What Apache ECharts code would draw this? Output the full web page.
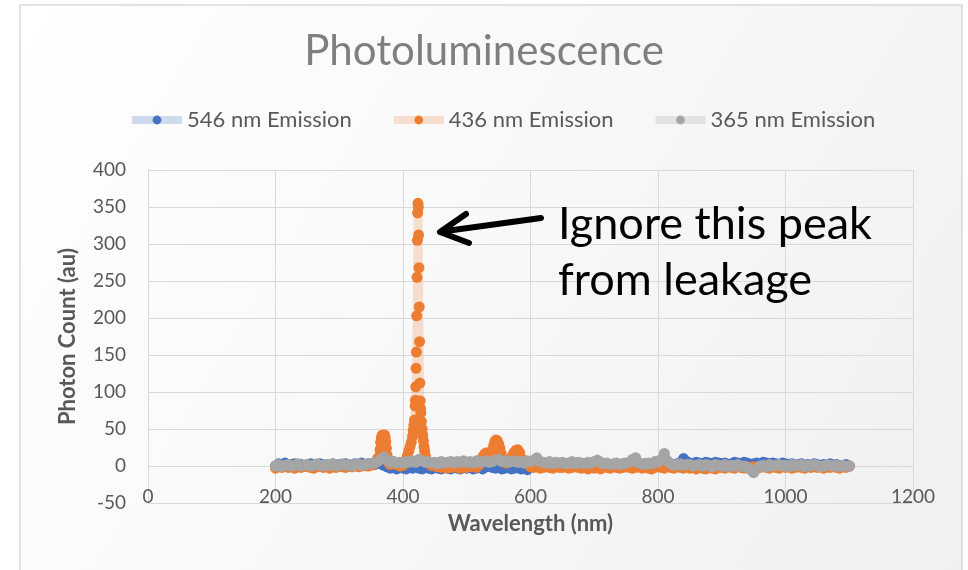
<!DOCTYPE html>
<html>
<head>
<meta charset="utf-8">
<title>Photoluminescence</title>
<script src="https://cdn.jsdelivr.net/npm/echarts@6/dist/echarts.min.js"></script>
<style>
  html, body { margin: 0; padding: 0; background: #fff; }
  #chart { width: 968px; height: 570px; }
</style>
</head>
<body>
<div id="chart"></div>
<script>
// wavelengths (nm) of the sampled points, one row per 50 nm
var wl = [
  200, 205, 210, 215, 220, 225, 230, 235, 240, 245,
  250, 255, 260, 265, 270, 275, 280, 285, 290, 295,
  300, 305, 310, 315, 320, 325, 330, 335, 340, 345,
  350, 355, 360, 365, 370, 375, 380, 385, 390, 395,
  400, 405, 410, 415, 420, 425, 430, 435, 440, 445,
  450, 455, 460, 465, 470, 475, 480, 485, 490, 495,
  500, 505, 510, 515, 520, 525, 530, 535, 540, 545,
  550, 555, 560, 565, 570, 575, 580, 585, 590, 595,
  600, 605, 610, 615, 620, 625, 630, 635, 640, 645,
  650, 655, 660, 665, 670, 675, 680, 685, 690, 695,
  700, 705, 710, 715, 720, 725, 730, 735, 740, 745,
  750, 755, 760, 765, 770, 775, 780, 785, 790, 795,
  800, 805, 810, 815, 820, 825, 830, 835, 840, 845,
  850, 855, 860, 865, 870, 875, 880, 885, 890, 895,
  900, 905, 910, 915, 920, 925, 930, 935, 940, 945,
  950, 955, 960, 965, 970, 975, 980, 985, 990, 995,
  1000, 1005, 1010, 1015, 1020, 1025, 1030, 1035, 1040, 1045,
  1050, 1055, 1060, 1065, 1070, 1075, 1080, 1085, 1090, 1095,
  1100
];
// 546 nm emission
var em546 = [
  0, 3, 1, 4, 1, 2, 3, 1, 2, 0,
  2, 3, 1, 2, 3, 1, 2, 0, 3, 1,
  2, 1, 3, 2, 1, 3, 2, 4, 2, 3,
  3, 2, 4, 3, 1, -1, -3, -2, -4, -2,
  -3, -4, -2, -3, -1, -3, -4, -2, -3, -4,
  -2, -3, -4, -2, -3, -4, -2, -3, -4, -2,
  -3, -2, -4, -3, -2, -4, -1, 0, -2, -3,
  -2, -4, -3, -2, -4, -3, -2, -4, -3, -5,
  0, 2, 1, 3, 2, 1, 3, 2, 3, 1,
  2, 3, 1, 2, 3, 1, 2, 0, 2, 1,
  2, 1, 3, 1, 2, 0, 2, 1, 2, 3,
  1, 2, 3, 2, 1, 2, 3, 1, 2, 3,
  2, 3, 2, 4, 3, 2, 3, 4, 10, 6,
  4, 3, 5, 4, 3, 5, 4, 3, 5, 4,
  3, 4, 2, 3, 5, 4, 3, 5, 4, 2,
  3, 4, 3, 5, 4, 3, 4, 3, 2, 4,
  3, 2, 3, 1, 2, 3, 1, 2, 1, 3,
  2, 1, 2, 1, 3, 1, 2, 0, 1, 2,
  0
];
// 436 nm emission (null where the peaks are taken from fine436)
var em436 = [
  -3, -1, -2, 0, -2, -1, -3, -1, -2, 0,
  -1, -2, -3, -1, 0, -2, -1, -3, -1, -2,
  0, -1, -2, 0, -1, 1, -1, 0, 1, 0,
  1, 3, 10, null, null, null, null, 6, 2, 0,
  1, null, null, null, null, null, null, null, 4, 1,
  0, -1, -2, -1, -3, -2, -1, -2, -3, -1,
  -2, -1, 0, -2, 2, null, null, null, null, null,
  null, null, null, null, null, null, null, null, null, 3,
  -1, -2, -1, -3, -2, -1, -2, -3, -1, -2,
  -2, -1, -3, -2, -1, -2, -3, -2, -4, -2,
  -3, -2, -4, -1, -2, -3, -1, -2, -3, -2,
  -1, -2, -3, -2, -1, -3, -2, -3, -4, -2,
  -1, -2, -3, -1, -2, -3, -1, -2, -3, -1,
  -3, -2, -4, -2, -3, -4, -2, -3, -4, -2,
  -2, -3, -1, -2, -3, -1, -2, -3, -1, -2,
  -1, -3, -2, -1, -2, -3, -1, -2, -3, -1,
  -2, -1, -3, -2, -1, -2, -3, -1, -2, -1,
  -2, -1, -3, -1, -2, -1, -2, -3, -1, -2,
  0
];
// finer sampling of the 436 nm peaks [nm, count]
var fine436 = [
  [363, 12], [364, 22], [365, 32], [366, 38], [367, 41], [368, 42],
  [369, 40], [370, 41], [371, 42], [372, 39], [373, 33], [374, 24],
  [375, 15], [376, 9], [378, 4], [380, 2],
  [403, 4], [405, 8], [407, 14], [409, 20], [411, 26], [413, 32],
  [415, 40], [416, 48], [417, 55], [418, 62], [419, 81], [419.5, 89],
  [420, 107], [420.5, 132], [421, 154], [421.5, 203], [422, 255],
  [422.5, 305], [423, 342], [423.5, 355], [424, 350], [424.5, 312],
  [425, 268], [425.5, 215], [426, 168], [426.5, 112], [427, 88],
  [427.5, 78], [428, 72], [429, 60], [430, 50], [431, 42], [432, 34],
  [433, 26], [434, 20], [435, 14], [436, 10], [437, 7], [438, 5],
  [522, 6], [525, 12], [528, 16], [531, 18], [534, 15], [537, 12],
  [540, 20], [542, 27], [544, 33], [546, 35], [548, 34], [550, 30],
  [552, 24], [554, 17], [556, 10], [559, 6], [562, 4], [565, 5],
  [568, 8], [571, 13], [574, 18], [577, 21], [580, 22], [583, 18],
  [586, 10], [588, 5]
];
// 365 nm emission
var em365 = [
  0, 2, -1, 1, 2, 0, 1, 3, 0, 1,
  2, 0, 1, 3, 1, 0, 2, 1, 3, 0,
  1, 3, 1, 2, 0, 2, 3, 1, 2, 3,
  3, 4, 6, 9, 12, 8, 5, 6, 4, 5,
  4, 6, 5, 7, 5, 9, 7, 5, 6, 4,
  5, 3, 6, 4, 5, 6, 4, 6, 5, 7,
  5, 6, 4, 7, 5, 6, 7, 5, 6, 8,
  9, 6, 7, 5, 6, 7, 5, 6, 4, 7,
  6, 8, 11, 6, 5, 4, 6, 3, 5, 4,
  5, 3, 4, 6, 3, 5, 4, 3, 5, 4,
  6, 8, 5, 3, 4, 2, 3, 4, 2, 3,
  4, 5, 9, 11, 4, 3, 2, 4, 3, 6,
  5, 9, 17, 7, 3, 1, 2, 3, 1, 2,
  2, 0, 1, 2, 0, 2, 1, -1, 2, 1,
  0, 2, -1, 1, 0, 2, -1, 0, -2, -5,
  -9, -4, 0, 1, -1, 2, 0, 1, 2, 0,
  1, -1, 2, 0, 1, 2, -1, 1, 0, 2,
  1, -1, 0, 2, 1, 0, 1, -1, 1, 0,
  0
];

var seriesNames = ['546 nm Emission', '436 nm Emission', '365 nm Emission'];
var colors = ['#4472C4', '#ED7D31', '#A5A5A5'];
var lineColors = ['rgba(68,114,196,0.25)', 'rgba(237,125,49,0.22)', 'rgba(165,165,165,0.25)'];

function pairs(values) {
  var out = [];
  for (var i = 0; i < wl.length; i++) {
    if (values[i] !== null) out.push([wl[i], values[i]]);
  }
  return out;
}

var data546 = pairs(em546);
var data436 = pairs(em436).concat(fine436).sort(function (a, b) { return a[0] - b[0]; });
var data365 = pairs(em365);

var font = 'Lato, "Open Sans", sans-serif';

function makeSeries(i, data) {
  return {
    name: seriesNames[i],
    type: 'line',
    data: data,
    symbol: 'circle',
    symbolSize: 11,
    showSymbol: true,
    showAllSymbol: true,
    itemStyle: { color: colors[i] },
    lineStyle: { color: lineColors[i], width: 8 },
    emphasis: { disabled: true },
    z: 2 + i
  };
}

var chart = echarts.init(document.getElementById('chart'));
chart.setOption({
  animation: false,
  backgroundColor: 'transparent',
  textStyle: { fontFamily: font },
  graphic: [
    {
      type: 'rect',
      z: -10,
      silent: true,
      shape: { x: 20, y: 5, width: 942, height: 570 },
      style: {
        fill: new echarts.graphic.LinearGradient(0, 0, 1, 1, [
          { offset: 0, color: '#ffffff' },
          { offset: 1, color: '#f0f0f0' }
        ]),
        stroke: '#d9d9d9',
        lineWidth: 1.5
      }
    },
    {
      type: 'text',
      left: 558,
      top: 196,
      z: 100,
      style: {
        text: 'Ignore this peak\nfrom leakage',
        font: '45px ' + font,
        fill: '#000',
        lineHeight: 56
      }
    },
    {
      type: 'polyline',
      z: 100,
      shape: { points: [[541, 218], [446, 231]] },
      style: { stroke: '#000', lineWidth: 6, lineCap: 'round' }
    },
    {
      type: 'polyline',
      z: 100,
      shape: { points: [[466, 214], [440, 232], [469, 243]] },
      style: { stroke: '#000', lineWidth: 6, lineCap: 'round', lineJoin: 'round', fill: null }
    }
  ],
  title: {
    text: 'Photoluminescence',
    left: 'center',
    top: 25,
    textStyle: {
      fontFamily: font,
      fontSize: 42,
      fontWeight: 'normal',
      color: '#7f7f7f'
    }
  },
  legend: {
    data: seriesNames,
    left: 123,
    top: 104,
    itemWidth: 50,
    itemHeight: 11,
    itemGap: 38,
    lineStyle: { width: 8 },
    textStyle: { fontFamily: font, fontSize: 22, color: '#595959' }
  },
  grid: {
    left: 148,
    right: 55,
    top: 170,
    bottom: 67,
    containLabel: false
  },
  xAxis: {
    type: 'value',
    min: 0,
    max: 1200,
    interval: 200,
    name: 'Wavelength (nm)',
    nameLocation: 'middle',
    nameGap: 10,
    nameTextStyle: { fontFamily: font, fontSize: 22, fontWeight: 'bold', color: '#595959' },
    axisLine: { show: false, onZero: false },
    axisTick: { show: false },
    axisLabel: {
      margin: -16,
      fontSize: 19,
      color: '#595959',
      fontFamily: font,
      formatter: function (v) { return String(v); }
    },
    splitLine: { show: true, lineStyle: { color: '#d9d9d9', width: 1 } }
  },
  yAxis: {
    type: 'value',
    min: -50,
    max: 400,
    interval: 50,
    name: 'Photon Count (au)',
    nameLocation: 'middle',
    nameGap: 69,
    nameTextStyle: { fontFamily: font, fontSize: 22, fontWeight: 'bold', color: '#595959' },
    axisLine: { show: false },
    axisTick: { show: false },
    axisLabel: { margin: 22, fontSize: 19, color: '#595959', fontFamily: font },
    splitLine: { show: true, lineStyle: { color: '#d9d9d9', width: 1 } }
  },
  series: [
    makeSeries(0, data546),
    makeSeries(1, data436),
    makeSeries(2, data365)
  ]
});
</script>
</body>
</html>
